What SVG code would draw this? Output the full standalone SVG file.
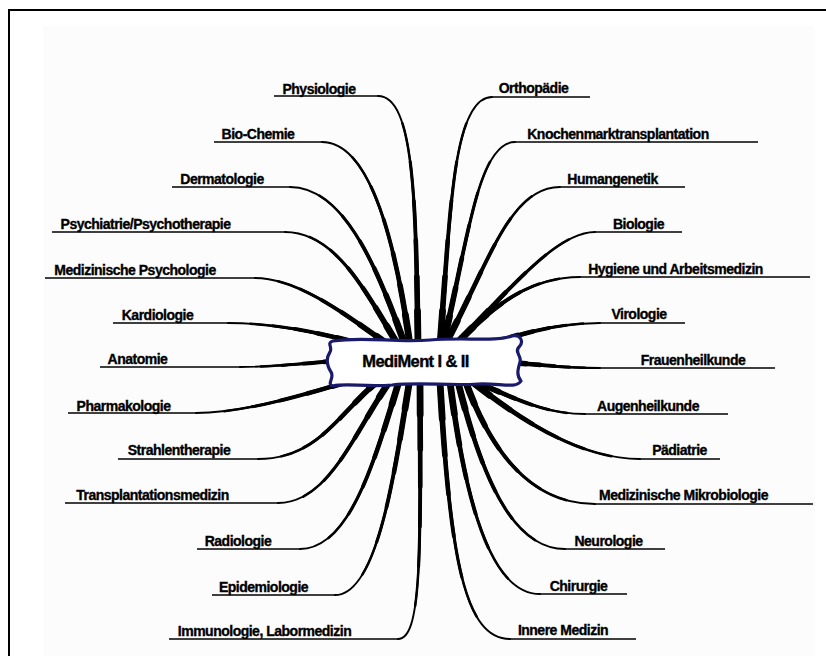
<svg xmlns="http://www.w3.org/2000/svg" xmlns:xlink="http://www.w3.org/1999/xlink" width="826" height="656" viewBox="0 0 826 656">
<style>
.lbl{font-family:"Liberation Sans",Arial,sans-serif;font-weight:bold;font-size:14px;letter-spacing:-0.5px;fill:#000;stroke:#000;stroke-width:0.35px;text-anchor:middle}
.hubtxt{font-family:"Liberation Sans",Arial,sans-serif;font-weight:bold;font-size:16.5px;letter-spacing:-0.6px;fill:#000;stroke:#000;stroke-width:0.4px;text-anchor:middle}
.ul{stroke:#000;stroke-width:1.6;fill:none}
.cv{fill:none;stroke:#000;stroke-linecap:round}
.w1{stroke-width:1.9}
.w2{stroke-width:2.5;stroke-dasharray:85 200}
.w3{stroke-width:3.1;stroke-dasharray:70 200}
.w4{stroke-width:3.8;stroke-dasharray:55 200}
.w5{stroke-width:4.6;stroke-dasharray:40 200}
.w6{stroke-width:5.6;stroke-dasharray:26 200}
.w7{stroke-width:6.8;stroke-dasharray:13 200}
</style>
<defs>
<path id="L1" pathLength="100" d="M418,345 C416,200 414,96 378,96"/>
<path id="L2" pathLength="100" d="M410,345 C395,240 370,142 322,142"/>
<path id="L3" pathLength="100" d="M405,345 C378,270 345,187 290,187"/>
<path id="L4" pathLength="100" d="M398,345 C365,290 335,232 285,232"/>
<path id="L5" pathLength="100" d="M393,348 C350,318 300,278 255,278"/>
<path id="L6" pathLength="100" d="M375,348 C330,335 280,323 228,323"/>
<path id="L7" pathLength="100" d="M380,358 C330,360 285,367 240,367"/>
<path id="L8" pathLength="100" d="M380,372 C320,390 250,413 196,413"/>
<path id="L9" pathLength="100" d="M385,375 C340,410 320,459 258,459"/>
<path id="L10" pathLength="100" d="M392,378 C355,430 330,503 278,503"/>
<path id="L11" pathLength="100" d="M400,378 C375,460 350,549 300,549"/>
<path id="L12" pathLength="100" d="M410,378 C395,470 378,595 335,595"/>
<path id="L13" pathLength="100" d="M420,380 C421,560 421,639 398,639"/>
<path id="R1" pathLength="100" d="M440,345 C450,220 452,97 492,97"/>
<path id="R2" pathLength="100" d="M443,345 C468,240 478,142 515,142"/>
<path id="R3" pathLength="100" d="M445,345 C490,260 510,187 560,187"/>
<path id="R4" pathLength="100" d="M455,345 C505,295 555,232 595,232"/>
<path id="R5" pathLength="100" d="M460,340 C495,305 530,277 580,277"/>
<path id="R6" pathLength="100" d="M490,345 C520,333 560,323 600,323"/>
<path id="R7" pathLength="100" d="M500,362 C540,364 560,368 600,368"/>
<path id="R8" pathLength="100" d="M470,380 C510,395 540,414 585,414"/>
<path id="R9" pathLength="100" d="M470,380 C520,420 580,459 640,459"/>
<path id="R10" pathLength="100" d="M465,380 C490,450 530,504 595,504"/>
<path id="R11" pathLength="100" d="M458,382 C480,470 510,549 565,549"/>
<path id="R12" pathLength="100" d="M450,382 C465,500 490,594 540,594"/>
<path id="R13" pathLength="100" d="M440,382 C450,560 465,639 510,639"/>
</defs>

<rect x="0" y="0" width="826" height="656" fill="#ffffff"/>
<rect x="43" y="26" width="772" height="630" fill="#fcfcfc"/>
<path d="M9,656 V10 H826" fill="none" stroke="#000" stroke-width="2"/>

<g id="connectors" class="cv">
<g><use href="#L1" class="w1"/><use href="#L1" class="w2"/><use href="#L1" class="w3"/><use href="#L1" class="w4"/><use href="#L1" class="w5"/><use href="#L1" class="w6"/><use href="#L1" class="w7"/></g>
<g><use href="#L2" class="w1"/><use href="#L2" class="w2"/><use href="#L2" class="w3"/><use href="#L2" class="w4"/><use href="#L2" class="w5"/><use href="#L2" class="w6"/><use href="#L2" class="w7"/></g>
<g><use href="#L3" class="w1"/><use href="#L3" class="w2"/><use href="#L3" class="w3"/><use href="#L3" class="w4"/><use href="#L3" class="w5"/><use href="#L3" class="w6"/><use href="#L3" class="w7"/></g>
<g><use href="#L4" class="w1"/><use href="#L4" class="w2"/><use href="#L4" class="w3"/><use href="#L4" class="w4"/><use href="#L4" class="w5"/><use href="#L4" class="w6"/><use href="#L4" class="w7"/></g>
<g><use href="#L5" class="w1"/><use href="#L5" class="w2"/><use href="#L5" class="w3"/><use href="#L5" class="w4"/><use href="#L5" class="w5"/><use href="#L5" class="w6"/><use href="#L5" class="w7"/></g>
<g><use href="#L6" class="w1"/><use href="#L6" class="w2"/><use href="#L6" class="w3"/><use href="#L6" class="w4"/><use href="#L6" class="w5"/><use href="#L6" class="w6"/><use href="#L6" class="w7"/></g>
<g><use href="#L7" class="w1"/><use href="#L7" class="w2"/><use href="#L7" class="w3"/><use href="#L7" class="w4"/><use href="#L7" class="w5"/><use href="#L7" class="w6"/><use href="#L7" class="w7"/></g>
<g><use href="#L8" class="w1"/><use href="#L8" class="w2"/><use href="#L8" class="w3"/><use href="#L8" class="w4"/><use href="#L8" class="w5"/><use href="#L8" class="w6"/><use href="#L8" class="w7"/></g>
<g><use href="#L9" class="w1"/><use href="#L9" class="w2"/><use href="#L9" class="w3"/><use href="#L9" class="w4"/><use href="#L9" class="w5"/><use href="#L9" class="w6"/><use href="#L9" class="w7"/></g>
<g><use href="#L10" class="w1"/><use href="#L10" class="w2"/><use href="#L10" class="w3"/><use href="#L10" class="w4"/><use href="#L10" class="w5"/><use href="#L10" class="w6"/><use href="#L10" class="w7"/></g>
<g><use href="#L11" class="w1"/><use href="#L11" class="w2"/><use href="#L11" class="w3"/><use href="#L11" class="w4"/><use href="#L11" class="w5"/><use href="#L11" class="w6"/><use href="#L11" class="w7"/></g>
<g><use href="#L12" class="w1"/><use href="#L12" class="w2"/><use href="#L12" class="w3"/><use href="#L12" class="w4"/><use href="#L12" class="w5"/><use href="#L12" class="w6"/><use href="#L12" class="w7"/></g>
<g><use href="#L13" class="w1"/><use href="#L13" class="w2"/><use href="#L13" class="w3"/><use href="#L13" class="w4"/><use href="#L13" class="w5"/><use href="#L13" class="w6"/><use href="#L13" class="w7"/></g>
<g><use href="#R1" class="w1"/><use href="#R1" class="w2"/><use href="#R1" class="w3"/><use href="#R1" class="w4"/><use href="#R1" class="w5"/><use href="#R1" class="w6"/><use href="#R1" class="w7"/></g>
<g><use href="#R2" class="w1"/><use href="#R2" class="w2"/><use href="#R2" class="w3"/><use href="#R2" class="w4"/><use href="#R2" class="w5"/><use href="#R2" class="w6"/><use href="#R2" class="w7"/></g>
<g><use href="#R3" class="w1"/><use href="#R3" class="w2"/><use href="#R3" class="w3"/><use href="#R3" class="w4"/><use href="#R3" class="w5"/><use href="#R3" class="w6"/><use href="#R3" class="w7"/></g>
<g><use href="#R4" class="w1"/><use href="#R4" class="w2"/><use href="#R4" class="w3"/><use href="#R4" class="w4"/><use href="#R4" class="w5"/><use href="#R4" class="w6"/><use href="#R4" class="w7"/></g>
<g><use href="#R5" class="w1"/><use href="#R5" class="w2"/><use href="#R5" class="w3"/><use href="#R5" class="w4"/><use href="#R5" class="w5"/><use href="#R5" class="w6"/><use href="#R5" class="w7"/></g>
<g><use href="#R6" class="w1"/><use href="#R6" class="w2"/><use href="#R6" class="w3"/><use href="#R6" class="w4"/><use href="#R6" class="w5"/><use href="#R6" class="w6"/><use href="#R6" class="w7"/></g>
<g><use href="#R7" class="w1"/><use href="#R7" class="w2"/><use href="#R7" class="w3"/><use href="#R7" class="w4"/><use href="#R7" class="w5"/><use href="#R7" class="w6"/><use href="#R7" class="w7"/></g>
<g><use href="#R8" class="w1"/><use href="#R8" class="w2"/><use href="#R8" class="w3"/><use href="#R8" class="w4"/><use href="#R8" class="w5"/><use href="#R8" class="w6"/><use href="#R8" class="w7"/></g>
<g><use href="#R9" class="w1"/><use href="#R9" class="w2"/><use href="#R9" class="w3"/><use href="#R9" class="w4"/><use href="#R9" class="w5"/><use href="#R9" class="w6"/><use href="#R9" class="w7"/></g>
<g><use href="#R10" class="w1"/><use href="#R10" class="w2"/><use href="#R10" class="w3"/><use href="#R10" class="w4"/><use href="#R10" class="w5"/><use href="#R10" class="w6"/><use href="#R10" class="w7"/></g>
<g><use href="#R11" class="w1"/><use href="#R11" class="w2"/><use href="#R11" class="w3"/><use href="#R11" class="w4"/><use href="#R11" class="w5"/><use href="#R11" class="w6"/><use href="#R11" class="w7"/></g>
<g><use href="#R12" class="w1"/><use href="#R12" class="w2"/><use href="#R12" class="w3"/><use href="#R12" class="w4"/><use href="#R12" class="w5"/><use href="#R12" class="w6"/><use href="#R12" class="w7"/></g>
<g><use href="#R13" class="w1"/><use href="#R13" class="w2"/><use href="#R13" class="w3"/><use href="#R13" class="w4"/><use href="#R13" class="w5"/><use href="#R13" class="w6"/><use href="#R13" class="w7"/></g>
</g>

<g id="hub">
<path d="M333,341 C365,336 395,343 430,340 C465,337 495,342 512,336 C521,334 524,342 519,347 C514,352 522,356 520,362 C518,369 516,375 521,381 C516,389 500,383 478,384 C450,386 420,382 392,385 C365,387 345,383 333,386 C326,384 335,378 331,372 C326,364 326,358 330,352 C333,347 326,343 333,341 Z" fill="#ffffff" stroke="#1a1a6b" stroke-width="3.2" stroke-linejoin="round"/>
<text class="hubtxt" x="415.5" y="367">MediMent I &amp; II</text>
</g>

<g id="n-physiologie"><line class="ul" x1="274" y1="96" x2="379" y2="96"/><text class="lbl" x="319" y="94">Physiologie</text></g>
<g id="n-biochemie"><line class="ul" x1="214" y1="142" x2="323" y2="142"/><text class="lbl" x="258" y="139">Bio-Chemie</text></g>
<g id="n-dermatologie"><line class="ul" x1="172" y1="187" x2="291" y2="187"/><text class="lbl" x="222" y="184">Dermatologie</text></g>
<g id="n-psychiatrie"><line class="ul" x1="52" y1="232" x2="286" y2="232"/><text class="lbl" x="145.5" y="229">Psychiatrie/Psychotherapie</text></g>
<g id="n-medpsych"><line class="ul" x1="45" y1="278" x2="256" y2="278"/><text class="lbl" x="135" y="275">Medizinische Psychologie</text></g>
<g id="n-kardiologie"><line class="ul" x1="113" y1="323" x2="229" y2="323"/><text class="lbl" x="157.5" y="320">Kardiologie</text></g>
<g id="n-anatomie"><line class="ul" x1="100" y1="367" x2="241" y2="367"/><text class="lbl" x="137.5" y="364">Anatomie</text></g>
<g id="n-pharmakologie"><line class="ul" x1="68" y1="413" x2="197" y2="413"/><text class="lbl" x="123.5" y="411">Pharmakologie</text></g>
<g id="n-strahlentherapie"><line class="ul" x1="118" y1="459" x2="259" y2="459"/><text class="lbl" x="179" y="455">Strahlentherapie</text></g>
<g id="n-transplantation"><line class="ul" x1="65" y1="503" x2="279" y2="503"/><text class="lbl" x="152.5" y="500">Transplantationsmedizin</text></g>
<g id="n-radiologie"><line class="ul" x1="197" y1="549" x2="301" y2="549"/><text class="lbl" x="238" y="546">Radiologie</text></g>
<g id="n-epidemiologie"><line class="ul" x1="212" y1="595" x2="336" y2="595"/><text class="lbl" x="263.5" y="592">Epidemiologie</text></g>
<g id="n-immunologie"><line class="ul" x1="169" y1="639" x2="399" y2="639"/><text class="lbl" x="264.5" y="636">Immunologie, Labormedizin</text></g>

<g id="n-orthopaedie"><line class="ul" x1="491" y1="97" x2="590" y2="97"/><text class="lbl" x="533.5" y="93">Orthopädie</text></g>
<g id="n-knochenmark"><line class="ul" x1="514" y1="142" x2="758" y2="142"/><text class="lbl" x="618" y="139">Knochenmarktransplantation</text></g>
<g id="n-humangenetik"><line class="ul" x1="559" y1="187" x2="685" y2="187"/><text class="lbl" x="612.5" y="184">Humangenetik</text></g>
<g id="n-biologie"><line class="ul" x1="594" y1="232" x2="682" y2="232"/><text class="lbl" x="638.5" y="229">Biologie</text></g>
<g id="n-hygiene"><line class="ul" x1="579" y1="277" x2="810" y2="277"/><text class="lbl" x="675.5" y="274">Hygiene und Arbeitsmedizin</text></g>
<g id="n-virologie"><line class="ul" x1="599" y1="323" x2="685" y2="323"/><text class="lbl" x="639" y="319">Virologie</text></g>
<g id="n-frauenheilkunde"><line class="ul" x1="599" y1="368" x2="775" y2="368"/><text class="lbl" x="693" y="365">Frauenheilkunde</text></g>
<g id="n-augenheilkunde"><line class="ul" x1="584" y1="414" x2="728" y2="414"/><text class="lbl" x="648" y="411">Augenheilkunde</text></g>
<g id="n-paediatrie"><line class="ul" x1="639" y1="459" x2="720" y2="459"/><text class="lbl" x="679.5" y="455">Pädiatrie</text></g>
<g id="n-mikrobiologie"><line class="ul" x1="594" y1="504" x2="813" y2="504"/><text class="lbl" x="683.5" y="500">Medizinische Mikrobiologie</text></g>
<g id="n-neurologie"><line class="ul" x1="564" y1="549" x2="665" y2="549"/><text class="lbl" x="608.5" y="546">Neurologie</text></g>
<g id="n-chirurgie"><line class="ul" x1="539" y1="594" x2="627" y2="594"/><text class="lbl" x="578.5" y="591">Chirurgie</text></g>
<g id="n-innere"><line class="ul" x1="509" y1="639" x2="636" y2="639"/><text class="lbl" x="563" y="635">Innere Medizin</text></g>
</svg>
